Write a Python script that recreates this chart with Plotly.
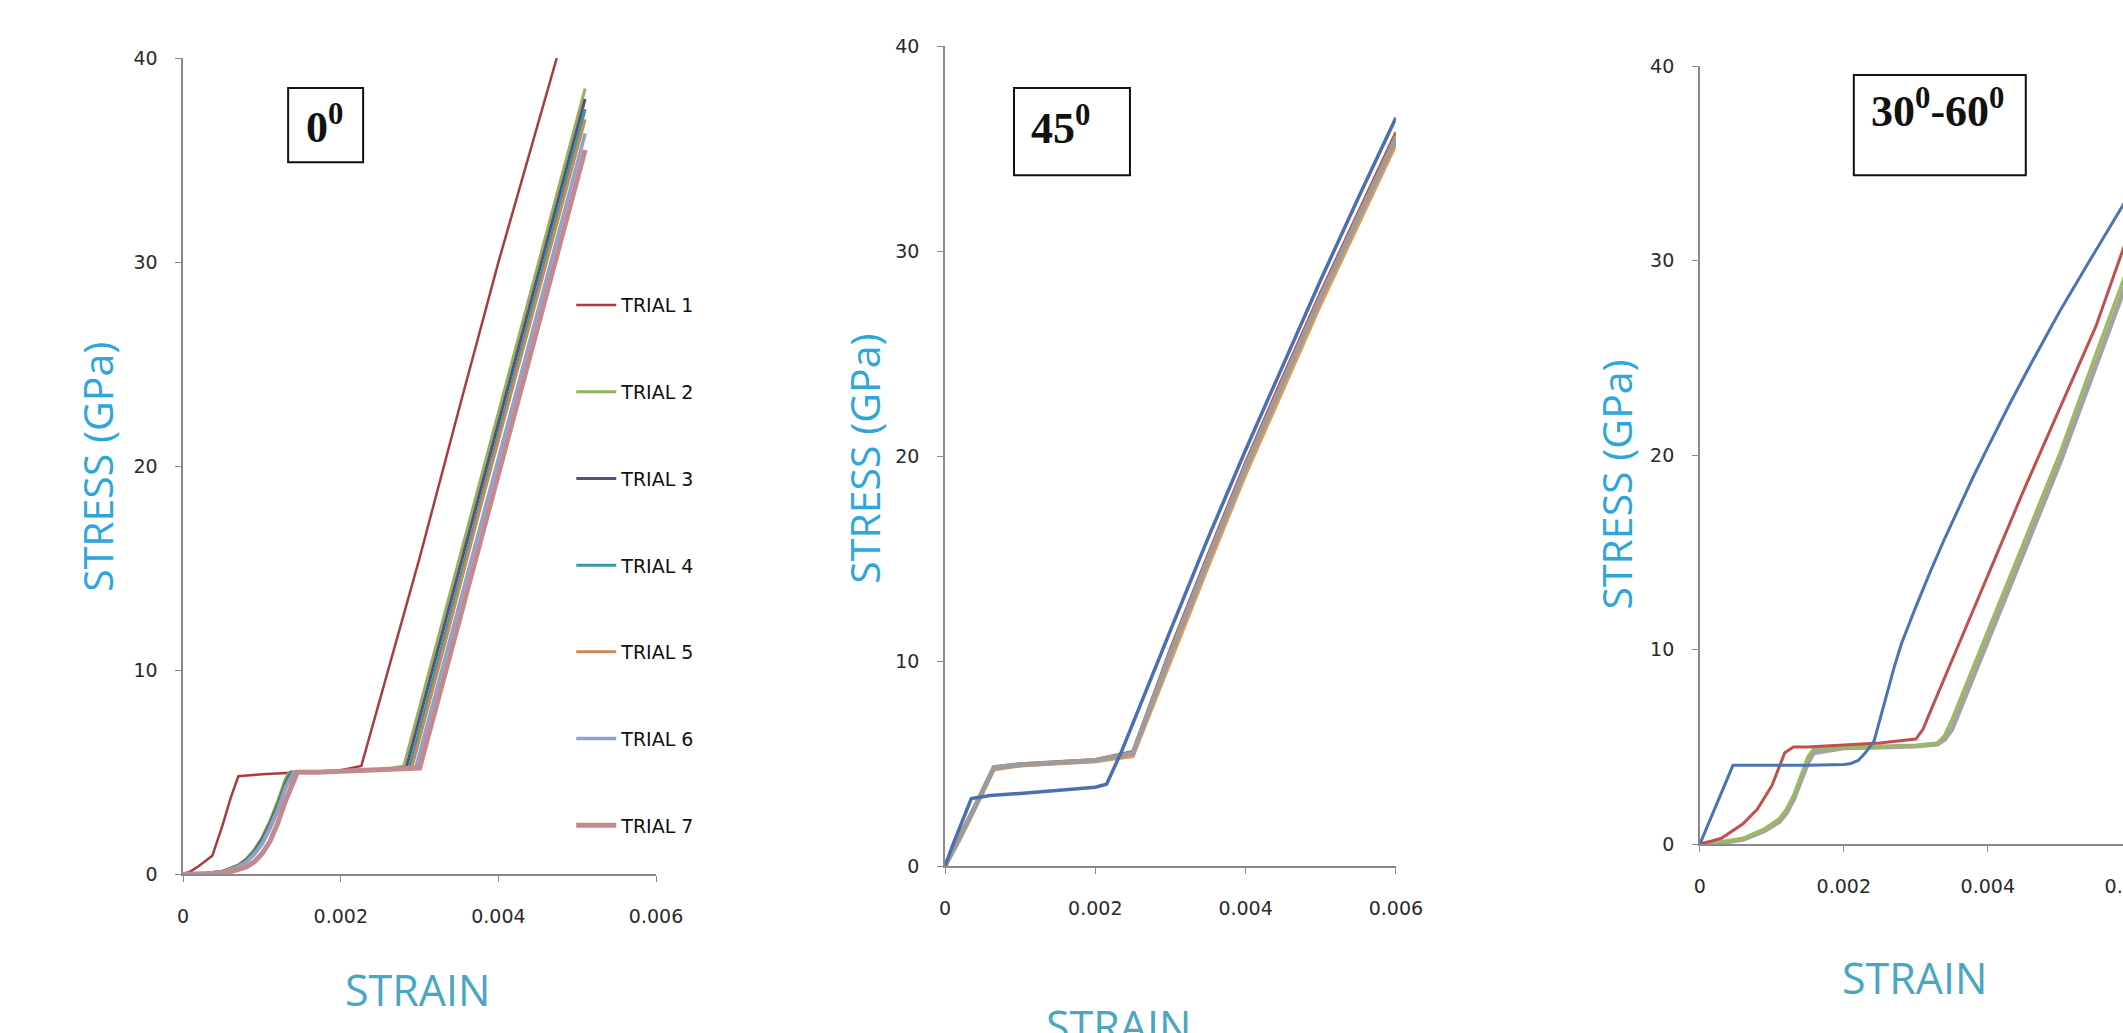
import plotly.graph_objects as go

# ---------------- DATA ----------------
trial_names = ["TRIAL 1", "TRIAL 2", "TRIAL 3", "TRIAL 4", "TRIAL 5", "TRIAL 6", "TRIAL 7"]

# Panel 1 : 0 deg
p1_t1_strain = [0, 0.0001, 0.0002, 0.0003, 0.00037, 0.0005, 0.0006, 0.0007, 0.0010, 0.0015, 0.0020, 0.00226, 0.0026, 0.0030, 0.0035, 0.0040, 0.0044, 0.00474]
p1_t1_stress = [0, 0.15, 0.4, 0.7, 0.9, 2.4, 3.7, 4.8, 4.9, 5.0, 5.1, 5.3, 10.0, 15.5, 22.8, 30.0, 35.4, 40.0]
p1_t2_strain = [0, 0.0003, 0.0005, 0.0007, 0.0008, 0.0009, 0.0010, 0.0011, 0.0012, 0.0013, 0.00135, 0.0016, 0.0020, 0.0025, 0.0028, 0.0033, 0.0038, 0.0043, 0.0051]
p1_t2_stress = [0, 0.05, 0.15, 0.45, 0.75, 1.2, 1.8, 2.6, 3.6, 4.7, 5.0, 5.0, 5.05, 5.1, 5.3, 12.5, 19.7, 27.0, 38.5]
p1_t3_strain = [0, 0.0003, 0.0005, 0.0007, 0.0008, 0.0009, 0.0010, 0.0011, 0.0012, 0.0013, 0.00137, 0.0016, 0.0020, 0.0025, 0.00283, 0.0033, 0.0038, 0.0043, 0.0051]
p1_t3_stress = [0, 0.05, 0.14, 0.42, 0.7, 1.1, 1.7, 2.5, 3.4, 4.5, 5.0, 5.0, 5.05, 5.1, 5.2, 12.0, 19.2, 26.4, 38.0]
p1_t4_strain = [0, 0.0003, 0.0005, 0.0007, 0.0008, 0.0009, 0.0010, 0.0011, 0.0012, 0.0013, 0.00138, 0.0016, 0.0020, 0.0025, 0.00287, 0.0033, 0.0038, 0.0043, 0.0051]
p1_t4_stress = [0, 0.04, 0.13, 0.4, 0.66, 1.05, 1.6, 2.4, 3.3, 4.4, 5.0, 5.0, 5.05, 5.1, 5.2, 11.4, 18.7, 25.9, 37.5]
p1_t5_strain = [0, 0.0003, 0.0005, 0.0007, 0.0008, 0.0009, 0.0010, 0.0011, 0.0012, 0.0013, 0.0014, 0.0016, 0.0020, 0.0025, 0.0029, 0.0033, 0.0038, 0.0043, 0.0051]
p1_t5_stress = [0, 0.04, 0.12, 0.38, 0.62, 1.0, 1.5, 2.3, 3.2, 4.3, 5.0, 5.0, 5.05, 5.1, 5.2, 11.0, 18.4, 25.6, 37.0]
p1_t6_strain = [0, 0.0003, 0.0005, 0.0007, 0.0008, 0.0009, 0.0010, 0.0011, 0.0012, 0.0013, 0.00141, 0.0016, 0.0020, 0.0025, 0.00295, 0.0033, 0.0038, 0.0043, 0.0051]
p1_t6_stress = [0, 0.03, 0.1, 0.35, 0.58, 0.95, 1.45, 2.2, 3.1, 4.2, 5.0, 5.0, 5.05, 5.1, 5.2, 10.3, 17.5, 24.7, 36.3]
p1_t7_strain = [0, 0.0004, 0.0006, 0.0008, 0.0009, 0.0010, 0.0011, 0.0012, 0.0013, 0.0014, 0.00145, 0.0017, 0.0020, 0.0025, 0.0030, 0.0033, 0.0038, 0.0043, 0.0051]
p1_t7_stress = [0, 0.03, 0.12, 0.35, 0.6, 1.0, 1.6, 2.5, 3.6, 4.6, 5.0, 5.0, 5.05, 5.1, 5.2, 9.5, 16.7, 23.9, 35.5]

# Panel 2 : 45 deg
p2_blue_strain = [0, 0.0001, 0.00035, 0.0006, 0.0010, 0.0015, 0.0020, 0.00215, 0.00235, 0.0030, 0.0035, 0.0040, 0.0045, 0.0050, 0.0055, 0.0060]
p2_blue_stress = [0, 1.0, 3.3, 3.45, 3.55, 3.7, 3.85, 4.0, 5.6, 11.5, 16.0, 20.3, 24.5, 28.6, 32.6, 36.5]
p2_strain = [0, 0.0002, 0.0004, 0.00065, 0.0010, 0.0015, 0.0020, 0.0025, 0.0030, 0.0035, 0.0040, 0.0045, 0.0050, 0.0055, 0.0060]
p2_red_stress = [0, 1.5, 3.0, 4.85, 5.0, 5.1, 5.2, 5.6, 10.6, 15.2, 19.7, 23.9, 28.0, 31.9, 35.8]
p2_green_stress = [0, 1.4, 2.9, 4.8, 4.95, 5.05, 5.15, 5.5, 10.4, 15.0, 19.5, 23.7, 27.8, 31.7, 35.6]
p2_purple_stress = [0, 1.4, 2.9, 4.8, 4.95, 5.05, 5.15, 5.45, 10.3, 14.9, 19.4, 23.6, 27.7, 31.6, 35.4]
p2_aqua_stress = [0, 1.35, 2.85, 4.75, 4.95, 5.05, 5.15, 5.4, 10.2, 14.8, 19.3, 23.5, 27.6, 31.5, 35.3]
p2_orange_stress = [0, 1.3, 2.8, 4.7, 4.9, 5.0, 5.1, 5.35, 10.0, 14.6, 19.1, 23.3, 27.4, 31.3, 35.2]
p2_gray_stress = [0, 1.4, 2.9, 4.8, 4.95, 5.05, 5.15, 5.5, 10.35, 14.95, 19.45, 23.65, 27.75, 31.65, 35.5]

# Panel 3 : 30-60 deg
p3_blue_strain = [0, 0.00046, 0.0010, 0.0015, 0.0020, 0.0021, 0.0022, 0.0023, 0.00242, 0.0026, 0.0027, 0.0028, 0.0029, 0.0030, 0.0032, 0.0034, 0.0036, 0.0038, 0.0040, 0.0043, 0.0046, 0.0050, 0.0054, 0.0059, 0.0060]
p3_blue_stress = [0, 4.05, 4.05, 4.05, 4.1, 4.15, 4.3, 4.7, 5.3, 7.8, 9.1, 10.3, 11.3, 12.2, 14.0, 15.7, 17.3, 18.9, 20.4, 22.6, 24.7, 27.4, 29.9, 33.0, 33.6]
p3_red_strain = [0, 0.0003, 0.0006, 0.0008, 0.0010, 0.00118, 0.0013, 0.0015, 0.0020, 0.0025, 0.0030, 0.0031, 0.0032, 0.0034, 0.0036, 0.0040, 0.0045, 0.0050, 0.0055, 0.0059, 0.0060]
p3_red_stress = [0, 0.3, 1.05, 1.8, 3.0, 4.7, 5.0, 5.0, 5.1, 5.2, 5.4, 5.9, 6.8, 8.6, 10.3, 13.8, 18.2, 22.4, 26.6, 30.8, 31.8]
p3_strain = [0, 0.0003, 0.0006, 0.0009, 0.0011, 0.0012, 0.0013, 0.0014, 0.0015, 0.00158, 0.0020, 0.0025, 0.0030, 0.0033, 0.0034, 0.0035, 0.0040, 0.0045, 0.0050, 0.0055, 0.0059, 0.0060]
p3_green_stress = [0, 0.1, 0.3, 0.8, 1.3, 1.8, 2.5, 3.5, 4.5, 4.9, 5.0, 5.0, 5.05, 5.2, 5.6, 6.4, 11.0, 15.6, 20.1, 25.2, 29.2, 30.2]
p3_gray_stress = [0, 0.08, 0.25, 0.7, 1.15, 1.6, 2.3, 3.2, 4.2, 4.7, 4.95, 5.0, 5.05, 5.15, 5.4, 5.9, 10.5, 15.1, 19.6, 24.6, 28.6, 29.6]

y_ticks = [0, 10, 20, 30, 40]
x_ticks = [0, 0.002, 0.004, 0.006]
x_ticklabels = ["0", "0.002", "0.004", "0.006"]
panel_labels = ["0<sup>0</sup>", "45<sup>0</sup>", "30<sup>0</sup>-60<sup>0</sup>"]
y_title = "STRESS (GPa)"
x_title = "STRAIN"

# ---------------- LAYOUT HELPERS ----------------
# page size in CSS px; picture positions are converted to page positions
W, H = 2170, 1065
SX, OX = 0.985, 4.8
SY, OY = 0.978, 11.0


def cx(t):
    return (t - OX) / SX


def cy(t):
    return (t - OY) / SY


def fx(t):
    return cx(t) / W


def fy(t):
    return 1 - cy(t) / H


p1_colors = ["#A83C3F", "#93B35A", "#5F4B7C", "#3B9AA0", "#C88B55", "#8FA2CC", "#C4898E"]
p1_widths = [2.5, 3, 3, 3, 3, 3.5, 5]

fig = go.Figure()

p1_data = [(p1_t1_strain, p1_t1_stress), (p1_t2_strain, p1_t2_stress), (p1_t3_strain, p1_t3_stress),
           (p1_t4_strain, p1_t4_stress), (p1_t5_strain, p1_t5_stress), (p1_t6_strain, p1_t6_stress),
           (p1_t7_strain, p1_t7_stress)]
for i, (sx, sy) in enumerate(p1_data):
    fig.add_trace(go.Scatter(x=sx, y=sy, mode="lines", name=trial_names[i],
                             line=dict(color=p1_colors[i], width=p1_widths[i]),
                             legendgroup=trial_names[i], xaxis="x", yaxis="y"))

p2_series = [("#C0504D", p2_red_stress, 3), ("#9BBB59", p2_green_stress, 3), ("#8064A2", p2_purple_stress, 3),
             ("#4BACC6", p2_aqua_stress, 3), ("#E39A55", p2_orange_stress, 3.5), ("#9C9C9C", p2_gray_stress, 5)]
for c, sy, w in p2_series:
    fig.add_trace(go.Scatter(x=p2_strain, y=sy, mode="lines", showlegend=False,
                             line=dict(color=c, width=w), xaxis="x2", yaxis="y2"))
fig.add_trace(go.Scatter(x=p2_blue_strain, y=p2_blue_stress, mode="lines", showlegend=False,
                         line=dict(color="#4A70B2", width=3.5), xaxis="x2", yaxis="y2"))

fig.add_trace(go.Scatter(x=p3_strain, y=p3_gray_stress, mode="lines", showlegend=False,
                         line=dict(color="#A3A3A3", width=5), xaxis="x3", yaxis="y3"))
fig.add_trace(go.Scatter(x=p3_strain, y=p3_green_stress, mode="lines", showlegend=False,
                         line=dict(color="#9BBB59", width=3), xaxis="x3", yaxis="y3"))
fig.add_trace(go.Scatter(x=p3_red_strain, y=p3_red_stress, mode="lines", showlegend=False,
                         line=dict(color="#C0504D", width=3), xaxis="x3", yaxis="y3"))
fig.add_trace(go.Scatter(x=p3_blue_strain, y=p3_blue_stress, mode="lines", showlegend=False,
                         line=dict(color="#4A74B4", width=3), xaxis="x3", yaxis="y3"))

tickfont = dict(family="DejaVu Sans", size=19, color="#2A2A2A")
axis_common = dict(showline=True, linecolor="#8A8A8A", linewidth=1.5, ticks="outside",
                   tickcolor="#8A8A8A", ticklen=6, showgrid=False, zeroline=False,
                   tickfont=tickfont, fixedrange=True)

panels = [
    # picture px: x at 0, x at 0.006, y at 0, y at 40
    (182, 655, 873, 58),
    (944, 1395, 865, 46),
    (1699, 2131, 843, 66),
]
for k, (xa, xb, ya, yb) in enumerate(panels):
    sfx = "" if k == 0 else str(k + 1)
    fig.layout["xaxis" + sfx] = dict(domain=[fx(xa), fx(xb)], range=[0, 0.006],
                                     anchor="y" + sfx, tickvals=x_ticks, ticktext=x_ticklabels,
                                     ticklabelstandoff=18, **axis_common)
    fig.layout["yaxis" + sfx] = dict(domain=[fy(ya), fy(yb)], range=[0, 40],
                                     anchor="x" + sfx, tickvals=y_ticks,
                                     ticklabelstandoff=14, **axis_common)

annotations = []
for (px, py) in [(95, 466), (863, 458), (1615, 484)]:
    annotations.append(dict(text=y_title, x=fx(px), y=fy(py), xref="paper", yref="paper",
                            xanchor="center", yanchor="middle", textangle=-90, showarrow=False,
                            font=dict(family="Open Sans", size=41, color="#2EA6DA")))
for (px, py) in [(416, 988), (1118, 1024), (1914, 976)]:
    annotations.append(dict(text=x_title, x=fx(px), y=fy(py), xref="paper", yref="paper",
                            xanchor="center", yanchor="middle", showarrow=False,
                            font=dict(family="Open Sans", size=43, color="#4AA6C2")))

boxes = [(287, 88, 362, 162), (1013, 88, 1129, 175), (1853, 75, 2025, 175)]
text_pos = [(303, 124), (1028, 125), (1868, 108)]
shapes = []
for (x0, y0, x1, y1), (tx, ty), lab in zip(boxes, text_pos, panel_labels):
    shapes.append(dict(type="rect", xref="paper", yref="paper", x0=fx(x0), x1=fx(x1),
                       y0=fy(y1), y1=fy(y0), line=dict(color="#111111", width=2),
                       fillcolor="white", layer="above"))
    annotations.append(dict(text="<b>" + lab + "</b>", x=fx(tx), y=fy(ty), xref="paper", yref="paper",
                            xanchor="left", yanchor="middle", showarrow=False,
                            font=dict(family="Liberation Serif", size=44, color="#111111")))

fig.update_layout(
    width=W, height=H, autosize=False,
    margin=dict(l=0, r=0, t=0, b=0),
    paper_bgcolor="white", plot_bgcolor="white",
    showlegend=True,
    legend=dict(x=574 / W, y=1 - 281 / H, xanchor="left", yanchor="top",
                font=dict(family="DejaVu Sans", size=19, color="#111111"),
                tracegroupgap=59, bgcolor="rgba(0,0,0,0)", itemwidth=40),
    shapes=shapes,
    annotations=annotations,
)

fig.write_html("out.html", config={"displayModeBar": False},
               post_script="document.body.style.margin='0';document.body.style.overflow='hidden';")
